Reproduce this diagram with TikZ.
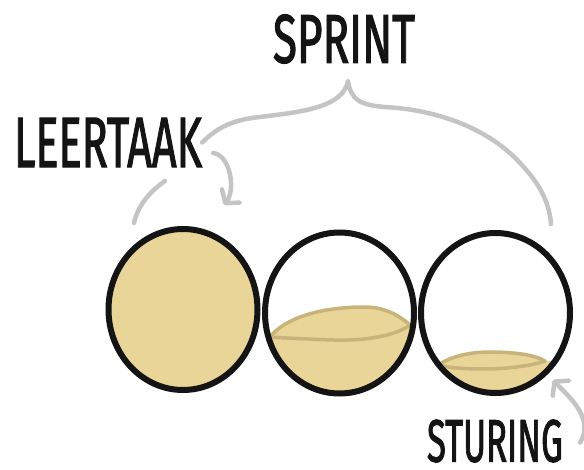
\documentclass[tikz,border=0pt]{standalone}
\usepackage{graphicx}
\usepackage{fontspec}
\setmainfont{Fira Sans}
\newfontfamily\handfont{Fira Sans}[FakeBold=2]
\usetikzlibrary{shapes.geometric,arrows.meta}

\definecolor{ink}{HTML}{141414}
\definecolor{sand}{HTML}{E9D597}
\definecolor{sandline}{HTML}{C8B37B}
\definecolor{pencil}{HTML}{C4C4C4}

\tikzset{
  cup/.style={ellipse, draw=ink, line width=6pt, inner sep=0pt,
              minimum width=149pt, minimum height=161pt},
  word/.style={inner sep=0pt, text=ink, font=\handfont},
  stroke/.style={draw=pencil, line width=4.5pt, line cap=round, line join=round},
  pointer/.style={stroke, -{Straight Barb[length=9pt,width=22pt,round]}},
  lens/.style={draw=sandline, line width=3.5pt, line cap=round, line join=round},
}
% hand-lettered label squeezed into a fixed box
\newcommand{\boxedword}[3]{\resizebox{#1pt}{#2pt}{#3}}

\begin{document}
\begin{tikzpicture}[x=1pt,y=-1pt]
\useasboundingbox (0,0) rectangle (584,470);

% centres of the two partly filled cups
\coordinate (m2) at (339.5,313);
\coordinate (m3) at (495.5,313);

% liquid in the middle cup
\begin{scope}
  \clip (m2) ellipse [x radius=74.5pt, y radius=81pt];
  \fill[sand] (270,337) .. controls (285,318) and (320,307) .. (365,307)
              .. controls (385,307) and (400,316) .. (410,325)
              -- (440,325) -- (440,420) -- (240,420) -- (240,337) -- cycle;
  \draw[lens] (270,337) .. controls (285,318) and (320,307) .. (365,307)
              .. controls (385,307) and (400,316) .. (410,325)
              .. controls (395,336) and (365,341) .. (333,340)
              .. controls (305,339) and (285,338) .. (270,337);
\end{scope}

% liquid in the right cup
\begin{scope}
  \clip (m3) ellipse [x radius=74.5pt, y radius=80pt];
  \fill[sand] (438,365) .. controls (452,356) and (470,352) .. (490,352)
              .. controls (515,352) and (535,355) .. (545,361)
              -- (590,361) -- (590,420) -- (410,420) -- (410,365) -- cycle;
  \draw[lens] (438,365) .. controls (452,356) and (470,352) .. (490,352)
              .. controls (515,352) and (535,355) .. (545,361)
              .. controls (535,365) and (510,369) .. (483,369)
              .. controls (460,369) and (445,367) .. (438,365);
\end{scope}

% the three cups
\node[cup, fill=sand] (cup1) at (183,309.5) {};
\node[cup] (cup2) at (m2) {};
\node[cup, minimum height=160pt] (cup3) at (m3) {};

% labels
\node[word] (sprint)   at (344,39)    {\boxedword{142}{48}{SPRINT}};
\node[word] (leertaak) at (108,142.5) {\boxedword{188}{49}{LEERTAAK}};
\node[word] (sturing)  at (495,441)   {\boxedword{136}{42}{STURING}};

% brace spanning the sprint
\coordinate (tip)   at (348,81);
\coordinate (rimR)  at (551,224);
\coordinate (under) at (165,181);
\coordinate (rimL)  at (134,223);
\draw[stroke] (leertaak.east) .. controls (214,131) and (228,120) .. (260,117)
              .. controls (300,112) and (343,108) .. (tip)
              .. controls (351,100) and (360,105) .. (385,107)
              .. controls (440,110) and (490,130) .. (520,163)
              .. controls (538,182) and (549,200) .. (rimR);
\draw[stroke] (under) .. controls (152,190) and (138,204) .. (rimL);

% arrows
\coordinate (a1) at (224,205);
\coordinate (a2) at (553,380);
\draw[pointer] ([xshift=17pt,yshift=-1.5pt]sturing.east)
               .. controls (595,418) and (568,396) .. (a2);
\draw[pointer] ([xshift=11pt,yshift=-10.5pt]leertaak.east)
               .. controls (230,155) and (236,189) .. (a1);
\end{tikzpicture}
\end{document}
